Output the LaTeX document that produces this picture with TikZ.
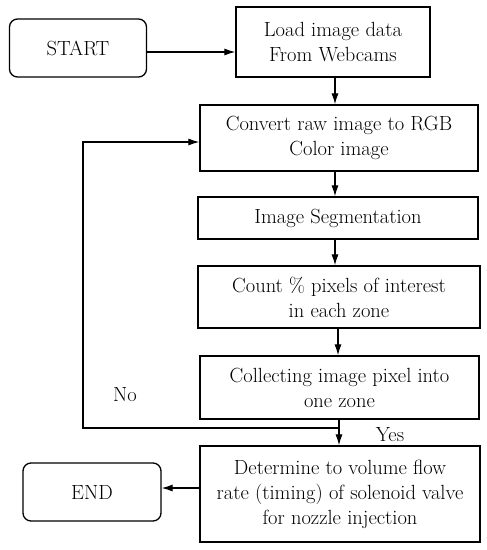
\documentclass[tikz,border=0pt]{standalone}
\usetikzlibrary{arrows.meta}
\begin{document}
\begin{tikzpicture}[x=1pt,y=-1pt,
  box/.style={draw,line width=1.3pt,align=center,inner sep=0pt,font=\fontsize{20.5}{25}\selectfont},
  term/.style={box,rounded corners=8pt},
  arr/.style={line width=1.1pt,-{Latex[length=11pt,width=7pt]}},
  lab/.style={font=\fontsize{20.5}{25}\selectfont}]
\useasboundingbox (0,0) rectangle (487,550);
\node[term,minimum width=137pt,minimum height=58pt] (start) at (78,48) {START};
\node[box,minimum width=194pt,minimum height=70pt] (load) at (333,42) {Load image data\\From Webcams};
\node[box,minimum width=278pt,minimum height=66pt] (conv) at (339,138) {Convert raw image to RGB\\Color image};
\node[box,minimum width=280pt,minimum height=42pt] (seg) at (338,218) {Image Segmentation};
\node[box,minimum width=282pt,minimum height=62pt] (count) at (339,297) {Count \% pixels of interest\\in each zone};
\node[box,minimum width=279pt,minimum height=63pt] (coll) at (339.5,387.5) {Collecting image pixel into\\one zone};
\node[box,minimum width=280pt,minimum height=96pt] (det) at (340,494) {Determine to volume flow\\rate (timing) of solenoid valve\\for nozzle injection};
\node[term,minimum width=138pt,minimum height=58pt] (end) at (92,492) {END};
\coordinate (j) at (339,428);
\coordinate (c1) at (83,428);
\coordinate (c2) at (83,142);
\draw[arr] (start.east |- 0,52) -- (load.west |- 0,52);
\draw[arr] (load.south -| 335,0) -- (conv.north -| 335,0);
\draw[arr] (conv.south -| 335,0) -- (seg.north -| 335,0);
\draw[arr] (seg.south -| 335,0) -- (count.north -| 335,0);
\draw[arr] (count.south -| 338,0) -- (coll.north -| 338,0);
\draw[arr] (coll.south -| 339,0) -- (det.north -| 339,0);
\draw[arr] (j) -- (c1) -- (c2) -- (conv.west |- c2);
\draw[arr] (det.west |- 0,488) -- (end.east |- 0,488);
\node[lab] (no) at (125,395) {No};
\node[lab] (yes) at (390,435) {Yes};
\end{tikzpicture}
\end{document}
